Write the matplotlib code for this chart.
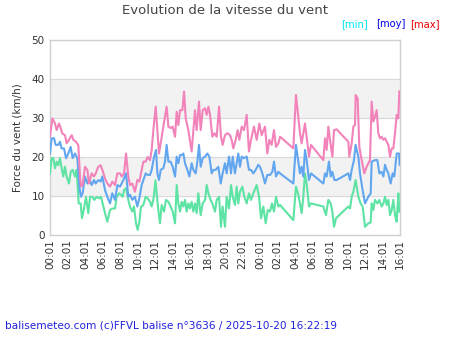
import numpy as np
import matplotlib.pyplot as plt

# heures depuis 00:01 (jour 1) -> 16:01 (jour 2)
t_max = [0.00, 0.27, 0.57, 0.76, 1.03, 1.22, 1.41, 1.71, 1.90, 2.17, 2.48, 2.67, 2.97, 3.24,
         3.43, 3.54, 3.73, 4.00, 4.27, 4.46, 4.76, 5.03, 5.22, 5.52, 5.79, 5.98, 6.29, 6.55,
         6.86, 7.12, 7.43, 7.70, 8.00, 8.19, 8.46, 8.69, 8.95, 9.14, 9.41, 9.71, 9.98, 10.21,
         10.48, 10.67, 10.93, 11.16, 11.43, 11.62, 11.81, 12.08, 12.27, 12.46, 12.65, 12.95,
         13.33, 13.53, 13.79, 14.02, 14.29, 14.48, 14.67, 14.86, 15.13, 15.32, 15.51, 15.81,
         16.19, 16.57, 16.76, 17.03, 17.22, 17.45, 17.72, 17.91, 18.10, 18.29, 18.55, 18.78,
         19.05, 19.32, 19.54, 19.73, 20.00, 20.27, 20.57, 20.76, 20.95, 21.22, 21.45, 21.64,
         21.91, 22.17, 22.48, 22.74, 22.97, 23.31, 23.62, 23.92, 24.19, 24.57, 24.84, 25.07,
         25.33, 25.60, 25.83, 26.10, 26.29, 27.81, 28.11, 28.38, 28.57, 28.76, 28.95, 29.14,
         29.33, 29.60, 29.83, 31.24, 31.43, 31.62, 31.81, 32.00, 32.27, 32.46, 32.76, 34.10,
         34.21, 34.48, 34.67, 34.86, 34.93, 35.16, 35.35, 35.62, 35.92, 36.19, 36.57, 36.76,
         36.95, 37.14, 37.33, 37.52, 37.71, 37.90, 38.10, 38.29, 38.48, 38.67, 38.86, 39.05,
         39.24, 39.43, 39.62, 39.81, 39.92]
v_max = [25.2, 29.9, 28.6, 26.9, 28.6, 27.4, 26.0, 25.6, 23.5, 24.4, 25.6, 24.4, 23.9, 23.0,
         15.0, 12.4, 12.8, 17.5, 16.7, 13.2, 15.8, 15.0, 15.8, 17.5, 17.9, 16.7, 14.5, 13.2,
         12.4, 13.7, 12.8, 15.8, 15.8, 15.0, 15.8, 20.9, 15.0, 12.8, 13.2, 11.1, 14.1, 13.7,
         16.7, 18.8, 18.8, 20.0, 19.2, 21.8, 26.9, 32.9, 26.9, 20.9, 23.5, 27.8,
         32.9, 27.8, 27.4, 27.8, 25.2, 31.6, 28.2, 32.0, 32.0, 36.8, 29.9, 26.9,
         21.4, 32.0, 26.9, 34.2, 26.9, 32.0, 32.5, 30.8, 32.9, 30.8, 25.2, 26.1,
         25.2, 32.9, 25.2, 23.1, 25.6, 26.1, 25.6, 24.4, 22.2, 24.4, 26.9, 24.4,
         27.8, 26.9, 30.8, 21.4, 24.4, 27.8, 24.4, 28.6, 25.6, 27.8, 20.9, 24.4,
         23.1, 26.9, 22.6, 23.5, 25.2, 22.2, 35.9, 30.3, 26.1, 23.5, 26.1, 28.6,
         25.2, 20.1, 23.1, 19.2, 24.8, 21.8, 27.8, 24.4, 20.1, 26.9, 27.1, 23.9,
         20.1, 23.5, 27.8, 28.2, 35.9, 35.0, 22.6, 19.2, 15.8, 17.5, 19.2, 34.2,
         29.1, 30.3, 32.0, 26.1, 24.8, 25.2, 24.4, 24.8, 23.9, 23.1, 20.1, 22.2,
         22.2, 26.1, 30.8, 29.9, 36.8]

t_moy = [0.00, 0.19, 0.46, 0.65, 0.95, 1.14, 1.33, 1.60, 1.83, 2.10, 2.36, 2.59, 2.86, 3.12,
         3.35, 3.54, 3.73, 4.00, 4.27, 4.50, 4.76, 5.03, 5.22, 5.52, 5.79, 5.98, 6.29, 6.55,
         6.86, 7.12, 7.43, 7.70, 8.00, 8.19, 8.46, 8.69, 8.95, 9.14, 9.41, 9.71, 9.98, 10.21,
         10.48, 10.67, 10.93, 11.16, 11.43, 11.62, 11.89, 12.12, 12.27, 12.46, 12.65, 12.95,
         13.14, 13.33, 13.53, 13.79, 14.02, 14.29, 14.48, 14.67, 14.86, 15.05, 15.24, 15.43,
         15.70, 15.93, 16.19, 16.38, 16.65, 16.84, 17.03, 17.22, 17.45, 17.72, 17.98, 18.21,
         18.48, 18.67, 18.93, 19.24, 19.51, 19.73, 20.00, 20.19, 20.46, 20.69, 20.88, 21.14,
         21.33, 21.52, 21.71, 21.91, 22.17, 22.48, 22.74, 22.97, 23.24, 23.50, 23.81, 24.00,
         24.27, 24.57, 24.84, 25.14, 25.41, 25.60, 25.83, 26.10, 26.29, 27.81, 28.11, 28.38,
         28.57, 28.76, 28.95, 29.14, 29.33, 29.60, 29.83, 31.24, 31.43, 31.62, 31.88, 32.08,
         32.27, 32.50, 32.76, 34.10, 34.29, 34.48, 34.74, 34.93, 35.24, 35.43, 35.73, 36.00,
         36.38, 36.65, 36.76, 37.14, 37.41, 37.64, 37.90, 38.10, 38.29, 38.48, 38.67, 38.93,
         39.16, 39.35, 39.62, 39.89, 39.96]
v_moy = [20.9, 24.8, 24.8, 23.1, 23.1, 23.9, 22.2, 22.2, 19.7, 20.9, 22.6, 19.7, 20.9, 19.7,
         12.4, 9.8, 10.7, 15.0, 13.2, 14.5, 12.8, 14.1, 13.2, 14.1, 13.7, 15.0, 11.5, 9.8,
         8.1, 10.7, 9.0, 12.8, 12.4, 13.2, 14.5, 15.8, 9.8, 10.3, 9.0, 9.8, 7.3, 9.4,
         12.8, 14.1, 15.8, 15.4, 15.4, 16.7, 20.0, 21.8, 15.8, 14.1, 16.7, 17.1,
         18.8, 23.1, 18.8, 18.8, 17.5, 15.0, 20.1, 18.4, 20.5, 20.5, 20.9, 18.4,
         16.7, 15.0, 18.4, 16.7, 15.8, 18.8, 23.1, 17.5, 19.7, 20.1, 20.9, 20.1,
         15.8, 16.7, 16.7, 17.5, 13.2, 15.8, 18.4, 15.8, 20.1, 15.8, 20.1, 15.8,
         18.4, 20.9, 17.5, 20.1, 19.7, 20.1, 16.7, 16.7, 15.8, 16.7, 18.0, 17.5,
         15.8, 13.2, 15.4, 15.4, 16.2, 18.8, 15.0, 16.2, 15.8, 13.2, 23.1, 18.8,
         15.8, 17.5, 15.0, 21.8, 19.2, 14.1, 15.8, 13.2, 15.8, 15.0, 18.8, 15.0,
         16.2, 14.1, 14.1, 15.8, 14.1, 16.7, 19.2, 23.1, 20.1, 15.8, 11.5, 8.1,
         9.8, 10.7, 18.8, 19.2, 19.2, 15.8, 16.2, 15.0, 18.0, 16.7, 15.8, 13.2,
         15.8, 15.0, 20.9, 20.9, 18.0]

t_min = [0.00, 0.19, 0.38, 0.57, 0.76, 0.95, 1.14, 1.33, 1.52, 1.71, 1.90, 2.17, 2.36, 2.59,
         2.86, 3.05, 3.28, 3.50, 3.66, 3.89, 4.11, 4.38, 4.57, 4.84, 5.07, 5.33, 5.60, 5.83,
         6.10, 6.29, 6.55, 6.86, 7.12, 7.43, 7.62, 7.89, 8.11, 8.30, 8.46, 8.69, 8.95, 9.14,
         9.41, 9.60, 9.83, 10.02, 10.21, 10.40, 10.67, 10.93, 11.16, 11.43, 11.62, 11.85,
         12.05, 12.27, 12.38, 12.57, 12.76, 13.03, 13.26, 13.53, 13.79, 14.02, 14.29, 14.48,
         14.67, 14.86, 15.05, 15.24, 15.43, 15.62, 15.81, 16.00, 16.19, 16.38, 16.57, 16.76,
         16.95, 17.22, 17.45, 17.72, 17.91, 18.10, 18.36, 18.55, 18.86, 19.05, 19.32, 19.54,
         19.73, 20.00, 20.19, 20.46, 20.69, 20.88, 21.14, 21.33, 21.52, 21.71, 21.98, 22.21,
         22.48, 22.74, 22.97, 23.24, 23.62, 23.89, 24.12, 24.38, 24.65, 24.88, 25.14, 25.37,
         25.60, 25.83, 26.10, 26.29, 27.81, 28.11, 28.38, 28.57, 28.76, 28.95, 29.14, 29.33,
         29.60, 29.83, 31.24, 31.54, 31.81, 32.08, 32.27, 32.46, 32.69, 34.10, 34.29, 34.48,
         34.67, 34.93, 35.24, 35.50, 35.73, 36.00, 36.38, 36.65, 36.76, 36.95, 37.14, 37.41,
         37.64, 37.90, 38.10, 38.29, 38.48, 38.67, 38.86, 39.05, 39.24, 39.43, 39.62, 39.81,
         39.92]
v_min = [15.8, 19.7, 19.7, 17.1, 18.8, 17.9, 19.7, 17.1, 15.0, 17.5, 15.0, 13.2, 16.2, 16.7,
         15.0, 16.7, 8.1, 8.1, 4.3, 6.8, 9.8, 5.6, 9.8, 9.8, 9.0, 9.8, 9.4, 9.8,
         7.3, 5.6, 3.4, 6.4, 6.8, 6.8, 9.8, 10.7, 10.3, 9.8, 11.5, 12.0, 9.0, 7.3,
         6.0, 7.3, 3.0, 1.3, 3.4, 7.3, 7.7, 9.8, 9.4, 8.5, 7.3, 9.5,
         14.0, 9.0, 6.4, 3.0, 7.7, 6.0, 9.0, 8.5, 7.3, 6.0, 3.0, 12.8,
         8.1, 6.0, 8.5, 7.3, 9.0, 6.0, 8.1, 6.8, 8.5, 6.0, 8.1, 5.6,
         10.7, 5.1, 8.1, 9.0, 12.8, 10.7, 9.0, 8.1, 6.0, 9.0, 9.8, 2.1,
         7.3, 2.1, 9.8, 6.8, 12.8, 9.8, 7.7, 12.4, 8.1, 11.1, 12.4, 9.8,
         8.1, 10.7, 9.0, 10.7, 12.8, 9.8, 4.3, 7.3, 3.0, 6.4, 6.0, 8.1,
         6.0, 9.8, 7.3, 7.7, 3.8, 12.4, 10.3, 8.1, 5.6, 9.8, 15.8, 13.2,
         7.3, 8.1, 7.3, 5.1, 9.0, 8.1, 6.0, 2.1, 4.3, 7.3, 6.8, 9.8,
         11.1, 14.1, 9.8, 8.1, 7.3, 2.1, 3.0, 3.2, 8.1, 6.4, 9.0, 8.1,
         9.0, 7.3, 8.1, 9.8, 7.7, 9.0, 5.1, 6.4, 9.0, 5.1, 3.4, 10.7,
         6.0]

tick_hours = list(range(0, 41, 2))
tick_labels = ['%02d:01' % (h % 24) for h in tick_hours]

fig = plt.figure(figsize=(4.5, 3.5), dpi=100)
ax = fig.add_axes([50/450, 1-235/350, 350/450, 195/350])

# bandes grises alternées
for y0 in (10, 30):
    ax.axhspan(y0, y0 + 10, color='#f2f2f2', zorder=0)
for y in (10, 20, 30, 40):
    ax.axhline(y, color='#d9d9d9', lw=0.8, zorder=1)

ax.plot(t_min, v_min, color='#5de3a3', lw=1.5, zorder=3)
ax.plot(t_moy, v_moy, color='#62a6f0', lw=1.5, zorder=4)
ax.plot(t_max, v_max, color='#f283ba', lw=1.5, zorder=5)

ax.set_xlim(0, 40)
ax.set_ylim(0, 50)
ax.set_yticks(range(0, 51, 10))
ax.set_xticks(tick_hours)
ax.set_xticklabels(tick_labels, rotation=90)
ax.tick_params(axis='both', length=0, labelsize=7.5, colors='#333333', pad=4)
ax.tick_params(axis='x', pad=3)
for s in ax.spines.values():
    s.set_color('#d0d0d0')
    s.set_linewidth(1)

ax.set_ylabel('Force du vent (km/h)', fontsize=7.5, color='#333333', labelpad=6)

fig.text(0.5, 1-11/350, 'Evolution de la vitesse du vent', ha='center', va='center',
         fontsize=9.5, color='#444444')
fig.text(341/450, 1-24/350, '[min]', color='#00e5f0', fontsize=7.2, va='center')
fig.text(376/450, 1-24/350, '[moy]', color='#0000ee', fontsize=7.2, va='center')
fig.text(410/450, 1-24/350, '[max]', color='#ee0000', fontsize=7.2, va='center')
fig.text(5/450, 1-325/350, 'balisemeteo.com (c)FFVL balise n°3636 / 2025-10-20 16:22:19',
         color='#2222dd', fontsize=7.6, va='center')

fig.savefig('out.png', dpi=100)
